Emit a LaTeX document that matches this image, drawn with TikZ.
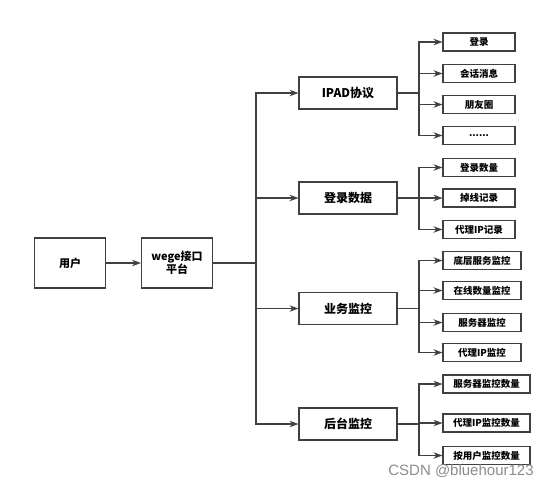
\documentclass[tikz,border=0pt]{standalone}
\usepackage{fontspec}
\setmainfont{Noto Sans CJK SC}
\setsansfont{Liberation Sans}
\usetikzlibrary{arrows.meta}

\begin{document}
\begin{tikzpicture}[x=1pt, y=-1pt, font=\bfseries,
	usrbox/.style={draw=black!75, line width=1.1pt, minimum width=71pt, minimum height=50pt, inner sep=0pt, align=center, font=\bfseries\fontsize{11}{13}\selectfont},
	midbox/.style={draw=black!75, line width=1.1pt, minimum width=98pt, minimum height=32pt, inner sep=0pt, font=\bfseries\fontsize{12}{14}\selectfont},
	leafbox/.style={draw=black!75, line width=1.1pt, minimum width=72pt, minimum height=18pt, inner sep=0pt, font=\bfseries\fontsize{9.5}{11}\selectfont},
	hv/.style={to path={|- (\tikztotarget)}}]
\useasboundingbox (0,0) rectangle (554,488);

\begin{scope}
	\node[usrbox] (user) at (70,263) {用户};
	\node[usrbox] (wege) at (177,263) {wege接口\\平台};
	
	\node[midbox] (ipad) at (348,93) {IPAD协议};
	\node[midbox] (login) at (348,198) {登录数据};
	\node[midbox] (biz) at (348,308.5) {业务监控};
	\node[midbox] (back) at (348,424) {后台监控};
	
	\node[leafbox] (ipadA) at (479,42) {登录};
	\node[leafbox] (ipadB) at (479,73.5) {会话消息};
	\node[leafbox] (ipadC) at (479,104.5) {朋友圈};
	\node[leafbox] (ipadD) at (479,135.5) {......};
	
	\node[leafbox] (loginA) at (479,167.5) {登录数量};
	\node[leafbox] (loginB) at (479,198) {掉线记录};
	\node[leafbox] (loginC) at (479,229.5) {代理IP记录};
	
	\node[leafbox, minimum width=78pt] (bizA) at (482,260.5) {底层服务监控};
	\node[leafbox, minimum width=78pt] (bizB) at (482,290.5) {在线数量监控};
	\node[leafbox, minimum width=78pt] (bizC) at (482,322.5) {服务器监控};
	\node[leafbox, minimum width=78pt] (bizD) at (482,352.5) {代理IP监控};
	
	\node[leafbox, minimum width=87pt] (backA) at (486.5,384) {服务器监控数量};
	\node[leafbox, minimum width=87pt] (backB) at (486.5,423) {代理IP监控数量};
	\node[leafbox, minimum width=87pt] (backC) at (486.5,455.5) {按用户监控数量};
	
	\coordinate (wbus) at (256,263);
	\coordinate (ipadbus) at (419,93);
	\coordinate (loginbus) at (419,198);
	\coordinate (bizbus) at (419,308.5);
	\coordinate (backbus) at (419,424);
	
	\node[text=black!45, font=\sffamily\fontsize{15}{17}\selectfont] (mark) at (461,471) {CSDN @bluehour123};
\end{scope}

\begin{scope}[>={Stealth[length=9pt, width=6.5pt]}, every edge/.style={draw=black!75, line width=1.1pt}]

	\path [->] (user) edge (wege);
	\path (wege) edge (wbus);
	\path [->] (wbus) edge[hv] (ipad);
	\path [->] (wbus) edge[hv] (login);
	\path [->] (wbus) edge[hv] (biz);
	\path [->] (wbus) edge[hv] (back);
	
	\path (ipad) edge (ipadbus);
	\path [->] (ipadbus) edge[hv] (ipadA);
	\path [->] (ipadbus) edge[hv] (ipadB);
	\path [->] (ipadbus) edge[hv] (ipadC);
	\path [->] (ipadbus) edge[hv] (ipadD);
	
	\path (login) edge (loginbus);
	\path [->] (loginbus) edge[hv] (loginA);
	\path [->] (loginbus) edge[hv] (loginB);
	\path [->] (loginbus) edge[hv] (loginC);
	
	\path (biz) edge (bizbus);
	\path [->] (bizbus) edge[hv] (bizA);
	\path [->] (bizbus) edge[hv] (bizB);
	\path [->] (bizbus) edge[hv] (bizC);
	\path [->] (bizbus) edge[hv] (bizD);
	
	\path (back) edge (backbus);
	\path [->] (backbus) edge[hv] (backA);
	\path [->] (backbus) edge[hv] (backB);
	\path [->] (backbus) edge[hv] (backC);
	
\end{scope}

\end{tikzpicture}
\end{document}
